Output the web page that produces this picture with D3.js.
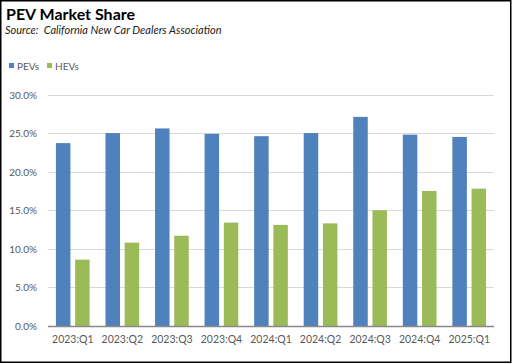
<!DOCTYPE html>
<html><head><meta charset="utf-8">
<script src="https://cdn.jsdelivr.net/npm/d3@7"></script>
<style>body{margin:0;background:#fff}svg{display:block}</style>
</head><body>
<script>
const categories = ["2023:Q1","2023:Q2","2023:Q3","2023:Q4","2024:Q1","2024:Q2","2024:Q3","2024:Q4","2025:Q1"];
const pevs = [23.7, 25.0, 25.6, 24.9, 24.6, 25.0, 27.1, 24.8, 24.5];
const hevs = [8.6, 10.8, 11.7, 13.4, 13.1, 13.3, 15.0, 17.5, 17.8];
const seriesNames = ["PEVs","HEVs"];
const colors = ["#4F81BD","#9BBB59"];
const yTicks = [0,5,10,15,20,25,30];

const W=512,H=364;
const svg=d3.select("body").append("svg").attr("width",W).attr("height",H);
svg.append("rect").attr("x",0.75).attr("y",0.75).attr("width",510).attr("height",361.5)
  .attr("fill","#fff").attr("stroke","#000").attr("stroke-width",1.5);

svg.append("text").attr("x",6).attr("y",20).attr("font-family","Lato, sans-serif")
  .attr("font-weight","bold").attr("font-size",16).attr("fill","#000").text("PEV Market Share");
svg.append("text").attr("x",5).attr("y",34).attr("font-family","Lato, sans-serif")
  .attr("font-style","italic").attr("font-size",11).attr("fill","#222")
  .text("Source:\u00a0\u00a0California New Car Dealers Association");

const x0=d3.scaleBand().domain(categories).range([48,494]).paddingInner(0.32).paddingOuter(0.16);
const x1=d3.scaleBand().domain(seriesNames).range([0,x0.bandwidth()]).paddingInner(0.245);
const y=d3.scaleLinear().domain([0,30]).range([326,94.5]);

const g=svg.append("g");
g.selectAll("line.grid").data(yTicks.filter(d=>d>0)).join("line")
  .attr("x1",48).attr("x2",494).attr("y1",d=>Math.round(y(d))+0.5).attr("y2",d=>Math.round(y(d))+0.5)
  .attr("stroke","#d9d9d9").attr("stroke-width",1.2);

const yAxis=d3.axisLeft(y).tickValues(yTicks).tickFormat(d=>d.toFixed(1)+"%").tickSize(0).tickPadding(0);
const ya=svg.append("g").attr("transform","translate(37,0)").call(yAxis);
ya.select(".domain").remove();
ya.selectAll("text").attr("font-family","Lato, sans-serif").attr("font-size",10).attr("fill","#595959").attr("dy","0.35em");

const data=categories.map((c,i)=>({c,vals:[pevs[i],hevs[i]]}));
const grp=svg.append("g").selectAll("g").data(data).join("g").attr("transform",d=>`translate(${x0(d.c)},0)`);
grp.selectAll("rect").data(d=>d.vals.map((v,j)=>({v,j}))).join("rect")
  .attr("x",d=>x1(seriesNames[d.j])).attr("width",x1.bandwidth())
  .attr("y",d=>y(d.v)).attr("height",d=>y(0)-y(d.v))
  .attr("fill",d=>colors[d.j]);

const xAxis=d3.axisBottom(x0).tickSize(0).tickPadding(10);
const xa=svg.append("g").attr("transform","translate(0,326)").call(xAxis);
xa.select(".domain").attr("stroke","#898989").attr("stroke-width",1.3).attr("d","M48,0.5H494");
xa.selectAll("text").attr("font-family","Lato, sans-serif").attr("font-size",10.5).attr("fill","#595959");

const leg=svg.append("g");
const legX=[8,46];
seriesNames.forEach((s,i)=>{
  leg.append("rect").attr("x",legX[i]+1).attr("y",63).attr("width",5).attr("height",5).attr("fill",colors[i]);
  leg.append("text").attr("x",legX[i]+9).attr("y",69.5).attr("font-family","Lato, sans-serif")
    .attr("font-size",10).attr("fill","#595959").text(s);
});
</script>
</body></html>
